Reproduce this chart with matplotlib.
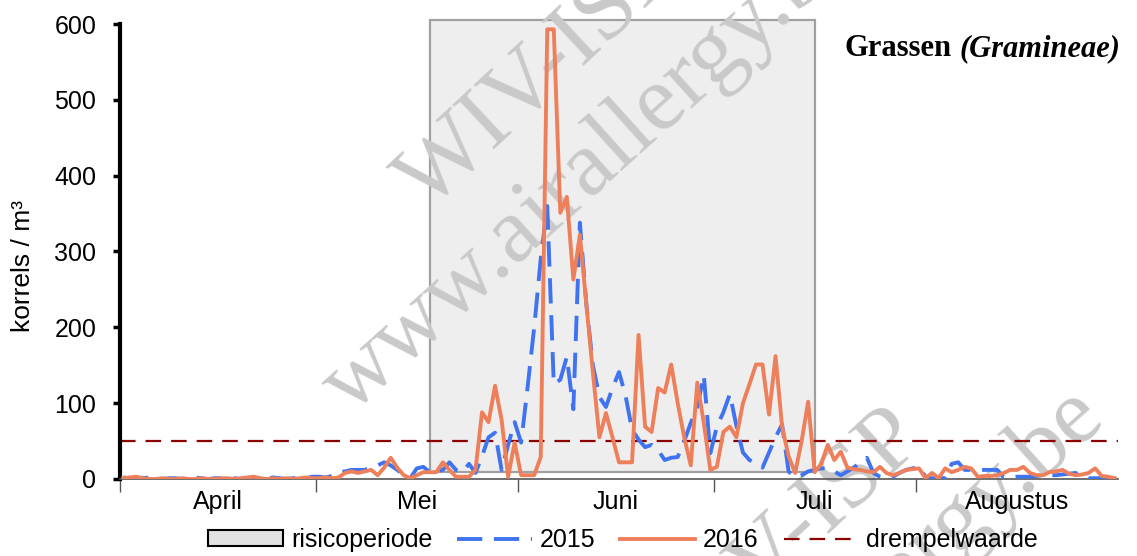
import numpy as np
import matplotlib
matplotlib.use('Agg')
import matplotlib.pyplot as plt
from matplotlib.patches import Patch
from matplotlib.lines import Line2D

# Maanden op de x-as (1 april - 31 augustus)
maanden = ['April', 'Mei', 'Juni', 'Juli', 'Augustus']
dagen_per_maand = [30, 31, 30, 31, 31]

# Dagelijkse concentraties graspollen (korrels / m³)
pollen_2015 = [
    2, 1, 0, 1, 2, 1, 0, 1, 1, 0,
    1, 2, 1, 0, 1, 1, 2, 1, 0, 1,
    2, 1, 1, 2, 1, 0, 1, 2, 1, 3,
    3, 2, 4, 9, 10, 12, 12, 12, 15, 18,
    22, 18, 12, 5, 1, 14, 16, 9, 10, 12,
    22, 12, 9, 20, 8, 30, 55, 61, 12, 45,
    75, 48, 122, 200, 290, 360, 125, 131, 161, 92,
    338, 230, 150, 108, 95, 120, 141, 110, 65, 52,
    42, 45, 38, 25, 28, 29, 50, 74, 95, 137,
    34, 69, 88, 112, 70, 35, 25, 21, 15, 35,
    55, 72, 10, 2, 5, 10, 12, 14, 14, 10,
    5, 10, 15, 22, 28, 8, 3, 1, 3, 8,
    12, 14, 16, 3, 1, 1, 1, 20, 22, 12,
    12, 12, 12, 12, 12, 2, 2, 3, 3, 3,
    4, 5, 5, 5, 6, 7, 8, 4, 1, 1,
    1, 1, 1,
]
pollen_2016 = [
    1, 2, 3, 1, 0, 0, 1, 0, 0, 1,
    0, 0, 1, 0, 0, 1, 1, 0, 1, 2,
    3, 1, 0, 1, 0, 1, 0, 1, 2, 1,
    1, 2, 1, 2, 8, 10, 8, 10, 12, 5,
    15, 28, 15, 5, 1, 5, 9, 9, 9, 22,
    12, 3, 3, 3, 12, 88, 75, 123, 78, 3,
    48, 5, 5, 5, 29, 593, 593, 351, 372, 263,
    322, 230, 140, 55, 87, 55, 22, 22, 22, 190,
    69, 62, 120, 114, 151, 100, 55, 18, 127, 74,
    12, 16, 62, 69, 55, 100, 125, 151, 151, 85,
    162, 69, 30, 8, 50, 102, 9, 20, 45, 25,
    36, 15, 13, 12, 10, 9, 16, 8, 5, 8,
    12, 13, 14, 1, 8, 1, 14, 9, 12, 16,
    14, 3, 4, 4, 5, 8, 12, 12, 16, 8,
    5, 5, 9, 10, 12, 7, 5, 6, 8, 14,
    4, 3, 1,
]
drempelwaarde = 50
# Risicoperiode als dagindex (vanaf 1 april)
risico_start, risico_einde = 47, 106

W, H = 1137, 556
plt.rcParams['font.family'] = ['Liberation Sans', 'DejaVu Sans']

fig = plt.figure(figsize=(W / 100, H / 100), dpi=100)
ax = fig.add_axes([120 / W, 77 / H, 998 / W, 455 / H])
ax.patch.set_alpha(0)

dagen = np.arange(len(pollen_2016))

ax.axvspan(risico_start, risico_einde, ymin=0.015, ymax=1.009, facecolor='#eeeeee',
           edgecolor='#a0a0a0', lw=1.6, zorder=1, clip_on=False)

# Watermerk
for dx, dy in [(0, 0), (245, 468)]:
    ax.text((428 + dx) / W, 1 - (212 + dy) / H, 'WIV-ISP', transform=fig.transFigure,
            family='Liberation Serif', size=68, color='#c9c9c9', rotation=43,
            rotation_mode='anchor', ha='left', va='baseline', zorder=1.5, clip_on=False)
    ax.text((350 + dx) / W, 1 - (415 + dy) / H, 'www.airallergy.be', transform=fig.transFigure,
            family='Liberation Serif', size=68, color='#c9c9c9', rotation=42,
            rotation_mode='anchor', ha='left', va='baseline', zorder=1.5, clip_on=False)

ax.axhline(drempelwaarde, color='#8b0000', lw=1.6, ls=(0, (7, 4.5)), zorder=2)
ax.plot(dagen, pollen_2015, color='#3f73f0', lw=2.8, ls=(0, (6.5, 3)), zorder=3)
ax.plot(dagen, pollen_2016, color='#ee7f5b', lw=2.8, zorder=4)

ax.set_xlim(-0.5, len(dagen) - 0.5)
ax.set_ylim(0, 600)
ax.set_yticks(range(0, 601, 100))

grenzen = np.concatenate([[0], np.cumsum(dagen_per_maand)]) - 0.5
ax.set_xticks(grenzen[:-1])
ax.set_xticklabels([])
ax.set_xticks((grenzen[:-1] + grenzen[1:]) / 2, minor=True)
ax.set_xticklabels(maanden, minor=True)

for s in ['top', 'right']:
    ax.spines[s].set_visible(False)
ax.spines['left'].set_linewidth(3)
ax.spines['left'].set_color('black')
ax.spines['bottom'].set_linewidth(1.2)
ax.spines['bottom'].set_color('#555555')

ax.tick_params(axis='y', length=5, width=2.5, color='black', labelsize=18, pad=12)
ax.tick_params(axis='x', which='major', length=9, width=1, color='#555555')
ax.tick_params(axis='x', which='minor', length=0, labelsize=18, pad=8)

fig.text(23 / W, 1 - 266 / H, 'korrels / m³', rotation=90, ha='center', va='center', size=19)

# Titel
t2 = fig.text(1120 / W, 1 - 56 / H, '(Gramineae)', ha='right', va='baseline',
              family='Liberation Serif', weight='bold', style='italic', size=22)
fig.canvas.draw()
bb = t2.get_window_extent()
fig.text((bb.x0 - 8) / W, 1 - 56 / H, 'Grassen', ha='right', va='baseline',
         family='Liberation Serif', weight='bold', size=22)

handles = [
    Patch(facecolor='#e2e2e2', edgecolor='black', lw=1.5),
    Line2D([], [], color='#3f73f0', lw=2.8, ls=(0, (6.5, 3))),
    Line2D([], [], color='#ee7f5b', lw=2.8),
    Line2D([], [], color='#8b0000', lw=1.6, ls=(0, (7, 4.5))),
]
fig.legend(handles, ['risicoperiode', '2015', '2016', 'drempelwaarde'], loc='center',
           bbox_to_anchor=(0.548, 0.029), ncol=4, frameon=False, fontsize=18,
           handlelength=3.0, handletextpad=0.3, columnspacing=1.0, handleheight=0.6)

fig.savefig('out.png', dpi=100)
